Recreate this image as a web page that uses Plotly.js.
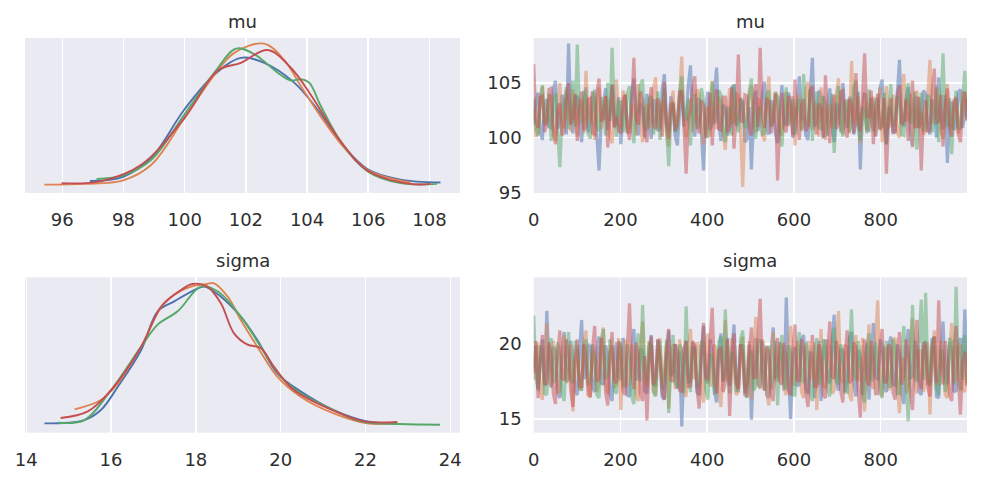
<!DOCTYPE html>
<html>
<head>
<meta charset="utf-8">
<script src="https://cdn.plot.ly/plotly-3.0.1.min.js"></script>
<style>
  html, body { margin: 0; padding: 0; background: #ffffff; }
  #myPlot { width: 984px; height: 480px; }
</style>
</head>
<body>
<div id="myPlot"></div>
<script>
// chain colours (seaborn deep)
let chainColors = ["#4C72B0", "#DD8452", "#55A868", "#C44E52"];

// KDE of mu, one curve per chain
let muKdeX = [
  [96.90, 97.99, 98.91, 99.99, 100.97, 101.84, 102.60, 103.58, 104.34, 105.10, 105.97, 107.05, 108.36],
  [95.41, 96.74, 97.99, 98.91, 99.99, 100.97, 101.62, 102.60, 103.25, 103.80, 104.45, 105.10, 105.97, 107.38],
  [97.12, 97.99, 98.91, 99.99, 100.97, 101.68, 102.28, 103.04, 103.47, 103.80, 104.07, 104.45, 105.10, 105.97, 107.05, 108.25],
  [95.98, 97.28, 98.58, 99.99, 101.08, 101.84, 102.71, 103.47, 104.12, 105.10, 105.97, 107.38, 108.03]
];
let muKdeY = [
  [0.005, 0.011, 0.038, 0.106, 0.155, 0.179, 0.172, 0.144, 0.106, 0.059, 0.022, 0.007, 0.003],
  [0.000, 0.001, 0.006, 0.028, 0.094, 0.155, 0.186, 0.199, 0.176, 0.139, 0.096, 0.058, 0.021, 0.003],
  [0.008, 0.013, 0.035, 0.099, 0.158, 0.192, 0.184, 0.158, 0.147, 0.149, 0.144, 0.111, 0.061, 0.019, 0.002, 0.001],
  [0.002, 0.005, 0.028, 0.094, 0.161, 0.172, 0.190, 0.165, 0.127, 0.061, 0.020, 0.001, 0.001]
];

// KDE of sigma
let sigmaKdeX = [
  [14.43, 15.37, 15.76, 16.16, 16.71, 17.10, 17.49, 18.00, 18.20, 18.59, 19.06, 19.45, 19.92, 20.47, 21.25, 22.04, 22.75],
  [15.14, 15.76, 16.16, 16.71, 17.25, 17.80, 18.27, 18.43, 18.75, 19.06, 19.45, 19.92, 20.47, 21.25, 22.04, 22.67],
  [14.75, 15.37, 16.00, 16.71, 17.10, 17.57, 18.12, 18.51, 19.06, 19.53, 20.00, 20.47, 21.25, 21.88, 22.82, 23.76],
  [14.81, 15.45, 16.00, 16.71, 17.18, 17.65, 17.92, 18.27, 18.59, 18.90, 19.22, 19.53, 19.84, 20.31, 21.25, 21.96, 22.75]
];
let sigmaKdeY = [
  [0.000, 0.005, 0.020, 0.055, 0.110, 0.168, 0.183, 0.201, 0.205, 0.190, 0.160, 0.125, 0.075, 0.048, 0.020, 0.003, 0.000],
  [0.021, 0.035, 0.060, 0.115, 0.180, 0.203, 0.209, 0.210, 0.190, 0.155, 0.115, 0.070, 0.040, 0.015, 0.000, 0.000],
  [0.001, 0.005, 0.050, 0.115, 0.148, 0.168, 0.205, 0.198, 0.160, 0.115, 0.070, 0.045, 0.020, 0.003, -0.001, -0.002],
  [0.008, 0.018, 0.050, 0.115, 0.175, 0.200, 0.209, 0.205, 0.180, 0.135, 0.118, 0.113, 0.085, 0.050, 0.019, 0.003, 0.002]
];

// trace of mu, every 5th draw per chain
let muBlue = [
  101.2, 103.4, 104.1, 100.6, 99.8, 102.9, 103.5, 101.0, 100.9, 104.3, 105.2, 100.8, 101.6, 103.9, 103.0, 100.3, 108.6, 102.1, 100.4, 103.6,
  103.8, 101.2, 99.6, 102.7, 104.6, 100.5, 101.9, 104.2, 103.3, 99.8, 97.0, 101.6, 102.8, 104.5, 100.7, 102.2, 104.9, 100.9, 101.5, 103.7,
  99.4, 102.0, 103.9, 100.4, 101.1, 104.0, 105.4, 101.5, 100.2, 103.1, 102.6, 100.0, 104.0, 101.8, 99.9, 103.5, 103.2, 100.6, 101.0, 104.4,
  105.8, 101.3, 100.6, 103.8, 102.9, 100.1, 99.3, 102.5, 104.4, 101.0, 101.7, 104.8, 106.6, 101.9, 100.1, 103.3, 103.6, 100.5, 97.0, 102.4,
  104.2, 100.7, 101.3, 104.1, 106.4, 101.4, 99.7, 103.0, 102.5, 100.2, 100.8, 104.6, 104.7, 101.1, 101.4, 103.5, 103.1, 99.6, 99.9, 102.8,
  97.1, 101.9, 104.3, 100.6, 101.8, 104.0, 105.1, 100.9, 100.3, 103.4, 102.7, 100.4, 99.5, 102.6, 104.8, 101.3, 101.2, 104.1, 103.4, 100.0,
  100.5, 103.2, 105.6, 101.7, 102.0, 100.2, 99.8, 103.9, 107.3, 101.0, 101.6, 104.3, 103.7, 100.1, 100.2, 102.9, 104.5, 101.5, 99.6, 103.1,
  102.9, 100.5, 105.0, 102.1, 100.9, 103.7, 103.5, 100.3, 101.3, 104.2, 97.1, 102.3, 104.1, 100.8, 100.7, 103.6, 103.0, 100.1, 101.9, 104.5,
  105.3, 101.1, 99.4, 102.8, 102.4, 100.5, 100.6, 104.0, 107.1, 101.6, 101.0, 103.3, 104.6, 100.4, 99.2, 102.7, 103.8, 100.9, 101.5, 104.3,
  104.0, 101.2, 100.3, 103.5, 102.6, 100.0, 105.5, 101.8, 100.8, 103.9, 97.7, 102.0, 103.3, 100.7, 101.1, 104.1, 104.4, 100.9, 102.2, 103.6];
let muOrange = [
  102.8, 100.1, 100.4, 103.6, 104.7, 101.5, 101.1, 103.3, 103.9, 100.2, 99.7, 102.9, 105.0, 101.3, 100.9, 104.0, 102.3, 100.6, 104.4, 101.7,
  100.1, 103.5, 103.2, 100.4, 106.1, 101.9, 101.4, 104.2, 99.8, 102.6, 104.6, 100.8, 101.9, 103.8, 103.4, 100.0, 99.5, 102.4, 105.3, 101.2,
  101.0, 104.3, 103.7, 100.6, 100.4, 103.1, 102.5, 100.2, 104.9, 101.6, 99.6, 102.8, 103.0, 100.9, 101.7, 104.5, 105.5, 101.1, 100.6, 103.4,
  102.9, 100.3, 99.2, 102.5, 104.3, 101.0, 101.2, 103.9, 107.4, 101.5, 100.0, 102.7, 103.6, 100.5, 101.8, 104.4, 104.0, 100.8, 99.4, 102.6,
  102.7, 100.1, 105.2, 101.9, 100.8, 103.7, 103.3, 100.4, 98.9, 102.2, 104.5, 101.3, 101.5, 104.1, 103.8, 100.7, 95.5, 101.4, 102.1, 104.0,
  104.8, 100.9, 100.5, 103.6, 103.1, 100.3, 99.7, 102.8, 105.6, 101.2, 101.3, 104.2, 103.5, 100.6, 100.2, 103.0, 104.2, 101.1, 101.6, 103.8,
  99.3, 102.6, 103.9, 100.8, 101.0, 104.4, 105.1, 101.4, 100.7, 103.2, 102.8, 100.1, 104.6, 101.9, 99.8, 102.5, 103.0, 100.9, 101.4, 104.0,
  105.4, 101.0, 100.3, 103.5, 102.6, 100.4, 107.0, 102.0, 101.1, 103.8, 99.5, 102.3, 104.1, 100.6, 100.9, 103.4, 103.7, 100.2, 102.0, 104.6,
  99.6, 102.2, 104.7, 100.9, 101.5, 103.9, 103.2, 100.5, 100.0, 102.9, 105.8, 101.6, 101.7, 104.0, 99.1, 102.4, 104.3, 101.0, 102.4, 100.3,
  100.6, 103.7, 107.1, 101.3, 101.9, 104.5, 103.6, 100.7, 99.9, 102.8, 104.9, 101.2, 100.8, 103.5, 103.1, 100.4, 101.3, 104.2, 104.0, 101.5];
let muGreen = [
  103.5, 100.8, 100.2, 103.4, 104.8, 101.2, 101.6, 104.0, 99.7, 102.5, 104.1, 100.6, 97.3, 101.8, 103.0, 104.6, 100.8, 102.1, 105.2, 101.0,
  108.5, 102.4, 101.3, 104.3, 103.6, 100.4, 99.9, 102.9, 104.4, 101.1, 100.6, 103.7, 102.9, 100.2, 105.0, 101.5, 108.2, 102.6, 100.1, 103.3,
  103.2, 100.5, 101.0, 104.1, 104.7, 101.4, 99.5, 102.3, 102.4, 104.8, 105.3, 101.0, 100.7, 103.6, 103.8, 100.3, 101.4, 104.2, 99.8, 102.7,
  104.5, 101.2, 97.4, 101.9, 103.1, 100.5, 100.9, 104.0, 105.6, 101.6, 101.8, 103.5, 99.3, 102.2, 104.0, 100.8, 101.2, 104.5, 103.4, 100.4,
  100.0, 103.0, 105.1, 101.3, 101.7, 104.3, 103.9, 100.6, 99.6, 102.8, 102.6, 100.2, 104.9, 101.7, 100.5, 103.6, 103.3, 100.9, 101.1, 104.2,
  105.4, 101.4, 99.9, 102.6, 102.8, 100.3, 100.4, 103.9, 104.3, 101.0, 101.5, 104.1, 103.7, 100.7, 99.2, 102.4, 104.6, 101.2, 101.9, 103.5,
  100.3, 102.9, 103.5, 100.6, 105.8, 101.8, 101.0, 104.4, 99.7, 102.5, 104.2, 100.9, 100.8, 103.8, 103.0, 100.2, 101.6, 104.0, 98.6, 102.1,
  104.7, 101.3, 100.1, 103.2, 103.3, 100.5, 101.4, 104.6, 105.2, 101.1, 99.8, 102.7, 102.5, 100.4, 104.4, 101.9, 100.6, 103.4, 103.6, 100.8,
  101.2, 104.1, 99.4, 102.3, 104.9, 101.0, 101.7, 103.8, 103.1, 100.3, 100.2, 103.5, 105.0, 101.6, 101.3, 104.2, 98.9, 102.0, 104.1, 100.7,
  100.7, 103.9, 103.4, 100.5, 101.8, 104.7, 99.6, 102.4, 107.7, 101.5, 101.0, 103.6, 98.5, 102.2, 104.3, 100.9, 100.9, 103.3, 106.1, 101.8];
let muRed = [
  106.7, 101.5, 100.9, 103.7, 103.8, 100.5, 101.3, 104.4, 104.5, 100.8, 99.4, 102.6, 103.1, 100.2, 100.6, 103.9, 105.0, 101.2, 101.8, 104.0,
  99.7, 102.8, 104.2, 100.7, 101.0, 103.5, 103.6, 100.4, 100.3, 104.1, 105.4, 101.6, 101.7, 103.8, 99.1, 102.3, 104.8, 101.0, 102.0, 100.6,
  100.5, 103.4, 103.9, 100.9, 99.8, 102.5, 107.3, 101.9, 101.2, 104.2, 103.4, 100.3, 99.6, 102.8, 104.6, 101.1, 100.8, 103.6, 102.7, 100.1,
  105.1, 101.4, 99.9, 103.0, 103.2, 100.6, 101.5, 104.3, 104.0, 101.2, 96.7, 101.7, 102.5, 104.5, 105.6, 101.3, 100.4, 103.4, 103.0, 100.0,
  101.6, 104.1, 99.3, 102.4, 104.4, 100.8, 100.7, 103.7, 103.7, 100.5, 101.1, 104.6, 99.0, 102.2, 107.6, 101.6, 101.4, 103.9, 103.8, 100.7,
  100.2, 103.3, 104.9, 101.0, 108.2, 102.3, 100.9, 103.6, 103.3, 100.4, 101.8, 104.0, 96.1, 101.5, 104.1, 100.9, 100.5, 103.8, 102.9, 100.2,
  105.3, 101.7, 99.8, 102.9, 103.5, 100.6, 101.0, 104.4, 104.7, 101.3, 100.3, 103.1, 102.6, 100.0, 105.7, 101.8, 99.5, 102.7, 103.9, 100.8,
  101.3, 104.2, 104.3, 100.9, 100.0, 103.5, 102.8, 100.4, 105.9, 101.6, 100.6, 103.8, 107.7, 101.9, 101.9, 104.3, 99.4, 102.5, 104.0, 100.7,
  101.1, 103.6, 96.7, 101.8, 103.6, 100.6, 100.4, 104.0, 104.8, 101.2, 101.6, 103.5, 99.7, 102.4, 105.2, 101.0, 101.0, 103.7, 97.0, 101.9,
  103.4, 100.5, 100.8, 104.1, 106.3, 101.4, 101.5, 103.9, 99.2, 102.6, 104.5, 100.8, 100.1, 103.2, 103.7, 100.3, 99.6, 102.8, 104.2, 101.6];

// trace of sigma
let sigmaBlue = [
  18.4, 19.9, 16.9, 18.8, 20.3, 17.2, 22.2, 18.6, 17.1, 19.8, 19.6, 16.8, 16.4, 19.2, 20.8, 17.5, 17.7, 20.2, 19.1, 16.9,
  16.6, 19.4, 21.6, 17.7, 17.9, 20.0, 19.8, 17.1, 16.8, 19.5, 20.5, 17.4, 17.3, 19.9, 19.3, 16.7, 16.2, 19.0, 20.1, 17.8,
  17.6, 20.4, 18.9, 16.6, 16.5, 19.3, 21.0, 17.6, 17.8, 19.7, 19.5, 16.9, 16.7, 19.6, 20.6, 17.3, 17.2, 20.3, 19.0, 16.5,
  16.3, 19.1, 20.9, 17.9, 18.1, 20.0, 17.0, 19.5, 14.5, 18.7, 20.2, 17.4, 17.5, 20.1, 19.7, 16.8, 16.6, 19.4, 21.2, 17.6,
  17.4, 20.3, 19.4, 16.9, 16.1, 19.2, 20.7, 17.5, 18.0, 20.4, 17.2, 19.6, 21.3, 17.7, 16.8, 19.9, 19.9, 16.7, 17.6, 20.0,
  14.95, 18.5, 20.4, 17.3, 17.1, 20.2, 19.2, 16.6, 16.4, 19.4, 21.1, 17.8, 17.8, 20.1, 19.6, 16.9, 23.1, 18.3, 15.0, 19.0,
  19.8, 17.2, 17.3, 20.3, 20.6, 17.0, 16.7, 19.5, 19.0, 16.4, 17.9, 20.2, 16.2, 19.3, 20.3, 17.6, 17.4, 20.0, 21.95, 17.5,
  16.9, 19.7, 19.5, 16.8, 17.7, 20.4, 20.8, 17.3, 16.5, 19.6, 19.1, 16.6, 18.2, 20.1, 16.3, 19.2, 21.4, 17.9, 17.6, 20.3,
  19.9, 17.1, 16.8, 19.8, 20.5, 17.4, 17.2, 20.0, 19.3, 16.7, 16.0, 19.1, 21.0, 17.7, 17.9, 20.2, 19.6, 16.9, 16.6, 19.5,
  20.2, 17.3, 17.5, 20.4, 19.0, 16.5, 16.4, 19.3, 21.5, 17.8, 17.3, 20.1, 19.7, 16.8, 16.9, 19.7, 20.4, 17.6, 22.3, 18.8];
let sigmaOrange = [
  17.6, 19.3, 20.1, 16.9, 16.3, 19.0, 21.4, 17.8, 17.2, 20.2, 19.4, 16.7, 16.9, 19.7, 20.6, 17.4, 17.8, 20.0, 15.5, 18.6,
  19.7, 17.0, 17.0, 20.1, 20.9, 17.3, 16.4, 19.5, 19.2, 16.8, 17.5, 20.3, 21.1, 17.6, 16.7, 19.4, 19.9, 17.1, 17.3, 20.4,
  15.6, 18.9, 20.3, 17.2, 17.8, 20.0, 19.0, 16.6, 16.2, 19.6, 21.5, 17.7, 17.1, 20.2, 19.6, 16.9, 16.6, 19.3, 20.4, 17.4,
  17.9, 20.1, 15.7, 18.8, 20.0, 17.0, 17.4, 20.3, 19.3, 16.7, 16.5, 19.5, 21.0, 17.8, 17.7, 20.1, 19.8, 17.2, 16.1, 19.4,
  20.7, 17.3, 17.2, 20.0, 19.5, 16.8, 15.8, 19.0, 21.6, 17.6, 17.6, 20.4, 19.1, 16.6, 16.8, 19.7, 20.5, 17.1, 17.4, 20.2,
  16.3, 19.2, 21.8, 17.5, 17.0, 20.3, 19.4, 16.9, 15.9, 19.1, 20.8, 17.7, 17.5, 20.0, 19.9, 17.0, 16.6, 19.6, 21.2, 17.3,
  17.3, 20.2, 19.6, 16.8, 16.4, 19.4, 20.2, 17.6, 17.8, 20.1, 15.6, 18.7, 21.0, 17.2, 17.1, 20.3, 19.3, 16.7, 16.9, 19.8,
  22.2, 17.9, 17.4, 20.0, 19.7, 16.6, 16.2, 19.3, 20.6, 17.5, 17.9, 20.4, 15.5, 18.9, 21.3, 17.4, 17.0, 20.2, 22.9, 17.8,
  16.5, 19.5, 19.8, 16.9, 17.6, 20.3, 20.4, 17.2, 15.4, 18.8, 19.1, 16.7, 17.2, 20.0, 21.7, 17.6, 16.7, 19.6, 19.5, 16.8,
  17.8, 20.1, 15.3, 18.9, 20.9, 17.3, 17.3, 20.2, 19.2, 16.6, 16.4, 19.5, 21.4, 17.7, 17.5, 20.0, 19.9, 17.0, 16.8, 19.4];
let sigmaGreen = [
  21.9, 17.8, 17.0, 19.9, 19.5, 16.7, 16.6, 19.6, 20.4, 17.4, 17.7, 20.1, 19.1, 16.8, 16.2, 19.3, 20.8, 17.6, 17.4, 20.2,
  19.8, 17.1, 16.9, 19.7, 20.3, 17.3, 17.5, 20.0, 19.0, 16.6, 16.4, 19.4, 21.0, 17.7, 17.8, 20.3, 19.6, 16.9, 16.7, 19.5,
  20.1, 17.2, 17.2, 20.0, 19.3, 16.5, 16.0, 19.2, 20.7, 17.5, 22.6, 18.4, 17.4, 20.1, 19.9, 16.8, 16.5, 19.6, 20.2, 17.0,
  17.6, 20.3, 15.4, 18.7, 20.6, 17.4, 17.1, 20.0, 19.4, 16.7, 22.5, 18.2, 16.8, 19.7, 19.7, 17.1, 17.3, 20.2, 20.0, 16.9,
  16.3, 19.3, 19.2, 16.6, 17.9, 20.1, 20.5, 17.5, 22.3, 18.5, 16.7, 19.5, 19.0, 16.8, 17.5, 20.3, 20.9, 17.3, 16.4, 19.2,
  19.6, 16.9, 17.2, 20.0, 20.3, 17.6, 16.9, 19.8, 19.8, 17.0, 17.7, 20.2, 15.9, 18.8, 20.6, 17.4, 17.0, 19.9, 19.4, 16.6,
  16.6, 19.5, 20.8, 17.8, 17.4, 20.1, 19.1, 16.7, 16.2, 19.4, 20.4, 17.3, 17.8, 20.3, 19.7, 16.9, 16.5, 19.6, 21.1, 17.6,
  17.3, 20.0, 19.5, 16.8, 16.8, 19.7, 22.3, 18.1, 17.6, 20.2, 19.2, 16.6, 16.1, 19.3, 20.7, 17.5, 17.9, 20.1, 19.0, 16.9,
  16.4, 19.5, 20.2, 17.2, 17.1, 20.3, 19.8, 16.7, 16.7, 19.4, 21.2, 17.7, 14.85, 18.6, 22.6, 17.9, 17.5, 20.2, 22.95, 17.6,
  23.4, 18.3, 17.2, 20.0, 20.5, 17.1, 16.6, 19.6, 19.3, 16.8, 17.8, 20.4, 20.1, 17.3, 23.8, 18.5, 16.9, 19.8, 20.6, 17.4];
let sigmaRed = [
  18.1, 20.2, 16.4, 19.0, 20.6, 17.4, 17.3, 20.1, 19.2, 16.7, 16.0, 19.3, 20.9, 17.7, 17.6, 20.3, 19.5, 16.9, 15.8, 18.9,
  20.3, 17.2, 17.1, 20.0, 19.0, 16.6, 16.5, 19.6, 21.2, 17.5, 17.7, 20.4, 19.4, 16.8, 15.9, 19.1, 20.8, 17.6, 17.4, 20.2,
  19.7, 16.9, 16.6, 19.5, 22.7, 18.3, 17.0, 20.1, 19.3, 16.7, 16.2, 19.2, 14.9, 18.6, 20.5, 17.3, 17.8, 20.3, 19.1, 16.8,
  16.3, 19.4, 21.0, 17.6, 17.5, 20.0, 19.6, 16.9, 16.8, 19.7, 20.2, 17.1, 17.2, 20.2, 19.9, 17.0, 15.7, 19.0, 21.4, 17.8,
  17.6, 20.1, 22.4, 18.0, 16.7, 19.5, 19.8, 16.8, 17.4, 20.3, 15.2, 18.7, 20.7, 17.4, 17.0, 20.0, 19.3, 16.6, 16.5, 19.4,
  21.1, 17.7, 17.8, 20.2, 23.0, 18.2, 16.9, 19.8, 19.5, 16.7, 16.2, 19.1, 20.4, 17.5, 17.3, 20.1, 19.0, 16.9, 16.6, 19.6,
  21.3, 17.6, 17.5, 20.3, 19.7, 16.8, 15.8, 18.9, 20.6, 17.2, 17.1, 20.0, 19.2, 16.6, 16.4, 19.5, 21.5, 17.8, 17.7, 20.2,
  19.4, 16.9, 16.1, 19.3, 20.9, 17.4, 17.6, 20.1, 19.8, 17.0, 15.1, 18.8, 20.3, 17.6, 17.2, 20.2, 19.1, 16.7, 16.7, 19.6,
  21.0, 17.5, 17.4, 20.0, 19.6, 16.8, 16.3, 19.4, 20.8, 17.3, 17.9, 20.3, 19.3, 16.9, 15.6, 18.9, 21.6, 17.7, 17.0, 20.1,
  19.9, 17.1, 16.5, 19.5, 20.5, 17.4, 22.9, 18.4, 17.3, 20.2, 19.0, 16.6, 16.2, 19.3, 21.2, 17.8, 15.3, 18.7, 19.5, 17.2];

let muChains = [muBlue, muOrange, muGreen, muRed];
let sigmaChains = [sigmaBlue, sigmaOrange, sigmaGreen, sigmaRed];

let data1 = [];
for (let c = 0; c < 4; c++) {
  data1.push({ x: muKdeX[c], y: muKdeY[c], xaxis: "x", yaxis: "y", type: "scatter", mode: "lines",
    line: { color: chainColors[c], width: 1.9, shape: "spline", smoothing: 1 }, hoverinfo: "skip" });
  data1.push({ x: sigmaKdeX[c], y: sigmaKdeY[c], xaxis: "x3", yaxis: "y3", type: "scatter", mode: "lines",
    line: { color: chainColors[c], width: 1.9, shape: "spline", smoothing: 1 }, hoverinfo: "skip" });
}
for (let c = 0; c < 4; c++) {
  data1.push({ y: muChains[c], x0: 0, dx: 5.02, xaxis: "x2", yaxis: "y2", type: "scatter", mode: "lines",
    opacity: 0.5, line: { color: chainColors[c], width: 3.2 }, hoverinfo: "skip" });
  data1.push({ y: sigmaChains[c], x0: 0, dx: 5.02, xaxis: "x4", yaxis: "y4", type: "scatter", mode: "lines",
    opacity: 0.5, line: { color: chainColors[c], width: 3.2 }, hoverinfo: "skip" });
}

let leftDom = [0.0254, 0.4675];
let rightDom = [0.5424, 0.9827];
let topDom = [0.598, 0.9208];
let botDom = [0.0985, 0.4223];

function ax(extra) {
  return Object.assign({
    showgrid: true, gridcolor: "#ffffff", gridwidth: 1.5, zeroline: false, showline: false,
    ticks: "", ticklabelstandoff: 11, tickfont: { size: 18, color: "#2e2e2e" }
  }, extra);
}

function title(text, dom, ydom) {
  return { text: text, xref: "paper", yref: "paper", x: (dom[0] + dom[1]) / 2, y: ydom[1],
    xanchor: "center", yanchor: "bottom", yshift: 4, showarrow: false,
    font: { size: 18, color: "#2e2e2e" } };
}

let layout = {
  width: 984, height: 480,
  margin: { l: 0, r: 0, t: 0, b: 0 },
  paper_bgcolor: "#ffffff", plot_bgcolor: "#EAEAF2",
  font: { family: "DejaVu Sans", color: "#2e2e2e" },
  showlegend: false,
  xaxis: ax({ domain: leftDom, anchor: "y", range: [94.78, 109.0], dtick: 2, tick0: 0, ticklabelstandoff: 14 }),
  yaxis: ax({ domain: topDom, anchor: "x", range: [-0.0118, 0.207], showgrid: false, showticklabels: false }),
  xaxis2: ax({ domain: rightDom, anchor: "y2", range: [0, 999], dtick: 200, tick0: 0, ticklabelstandoff: 14 }),
  yaxis2: ax({ domain: topDom, anchor: "x2", range: [94.95, 109.1], dtick: 5, tick0: 0 }),
  xaxis3: ax({ domain: leftDom, anchor: "y3", range: [13.97, 24.23], dtick: 2, tick0: 0, ticklabelstandoff: 14 }),
  yaxis3: ax({ domain: botDom, anchor: "x3", range: [-0.014, 0.219], showgrid: false, showticklabels: false }),
  xaxis4: ax({ domain: rightDom, anchor: "y4", range: [0, 999], dtick: 200, tick0: 0, ticklabelstandoff: 14 }),
  yaxis4: ax({ domain: botDom, anchor: "x4", range: [14.09, 24.44], dtick: 5, tick0: 0 }),
  annotations: [
    title("mu", leftDom, topDom), title("mu", rightDom, topDom),
    title("sigma", leftDom, botDom), title("sigma", rightDom, botDom)
  ]
};

Plotly.newPlot("myPlot", data1, layout, { displayModeBar: false, staticPlot: true });
</script>
</body>
</html>
